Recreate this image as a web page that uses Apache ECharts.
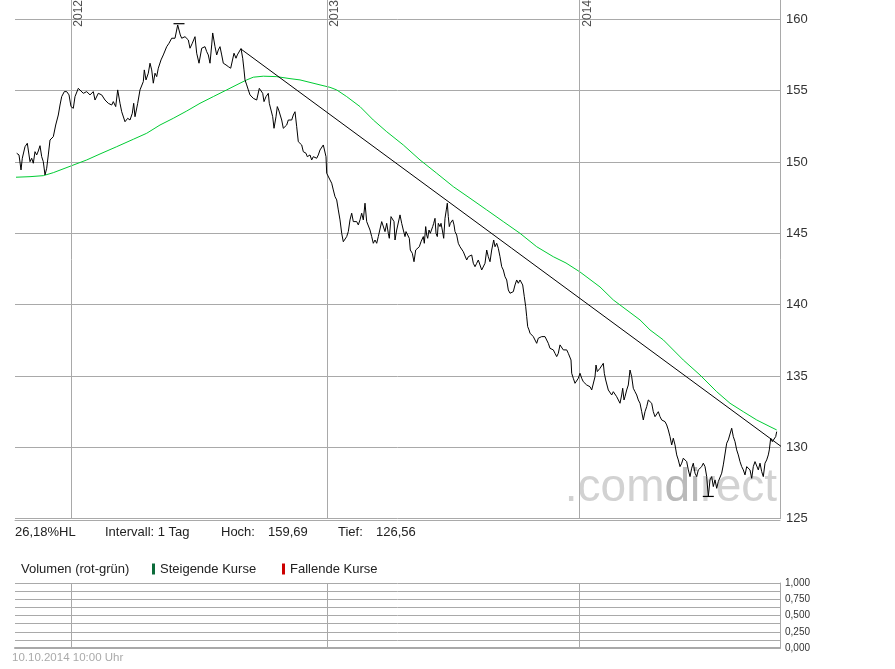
<!DOCTYPE html>
<html><head><meta charset="utf-8">
<script src="https://cdn.jsdelivr.net/npm/echarts@6/dist/echarts.min.js"></script>
<style>html,body{margin:0;padding:0;background:#fff}#c{width:895px;height:669px}</style>
</head><body><div id="c"></div>
<script>
// x values are trading days counted from 13.10.2011
const tradingDay = [1.7,4,6,7.3,10,12.3,14,15,16.7,18.3,20,21.7,23.3,25,26.7,28.3,30,31.7,33.3,35,38.3,40.7,43.3,45,46.7,49.3,51.7,54,56,58.3,60,63.3,65.3,68.3,71.7,75,78.3,80,83.3,86.7,90,93.3,96.7,98.3,100.7,102.7,105,106.7,110,112.7,115,117.3,118.7,120,122.7,125,128.3,129.3,131,133.3,135,136.7,138.3,140,141.7,143.3,146,148.3,151.7,154,156.7,160,162.7,164,165.3,166.7,170,173.3,175,177.3,180,181.7,184,186.7,190,191.7,193.3,195,196.7,197.7,200,201.7,203.3,205,206.7,208.3,211,213.3,215.7,217.3,219,221,222.3,224.3,226,227.7,229,230,231.7,233.3,235,236.7,238.3,240,241.7,244.3,246,247.7,249,251,253.3,254.3,256,257.7,259,261,262.3,263.7,265,266.7,268.3,270,271.7,273.3,275,276.7,278.3,280,281.7,283.3,285,286.7,288.3,291,292.3,295,296.7,298.3,300,301.7,303.3,305,306.7,308.3,310,311,311.7,313.3,315,316.7,318.3,320,321.7,323.3,325,326.7,328.3,330,331.7,333.3,335,336.7,338.3,340,341.7,343.3,345,346.7,348.3,350,351.7,353.3,355,356.7,358.3,360,361.7,363.3,365,366.7,368.3,370,371.7,373.3,374.3,376,377.3,379,380,381.7,383.3,385,386.7,388.3,390,391,392.7,394.3,395.3,397.3,399,400.7,402.3,404.3,406,407.3,408.3,409.3,410.7,411.7,412.7,414,415.3,416.7,417.7,418.7,420,421,422.3,423.3,425,426,427.3,428.7,430,431.3,432.3,433.3,434.3,435.3,436.7,437.7,439,440,441.7,443.3,445,446.7,448.3,450,451.7,453.3,455,456.7,458.3,460,461.7,463.3,465,466.7,468.3,470,471.7,473.3,475,476.7,477.7,478.7,480,481.7,483.3,485,486.7,488.3,490,491.7,493.3,495,496.7,498.3,500,501.7,503.3,505,506.7,507.7,509.3,510.7,511.7,512.7,514,515,516.7,518.3,520,521.7,523.3,525,526.7,528.3,530,531.7,533.3,535,536.7,538.3,540,541.7,543.3,545,546.7,548.3,550,551.7,553.3,555,556,556.7,558.3,560,561.7,563.3,565,566.7,568.3,570,571.7,573.3,575,576.7,578.3,580,581,582.3,583.3,585,586.7,588.3,589.3,590.7,591.7,593.3,595,596.7,598.3,600,601.7,603.3,605,606.7,607.7,609,610,611.7,613.3,615,616.7,618.3,620,621.7,623.3,625,626.7,628.3,630,631.7,633.3,635,636.7,638.3,640,641.7,643.3,645,646.7,648.3,650,651.7,653.3,655,656.7,658.3,660,661.7,663.3,665,666.7,668.3,670,671.7,673.3,675,676.7,678.3,680,681.7,683.3,685,686.7,688.3,690,691.7,693.3,695,696.7,698.3,700,701.7,703.3,705,706.7,708.3,710,711.7,713.3,715,716.7,718.3,720,721.7,723.3,725,726.7,728.3,730,731.7,733.3,735,736.7,738.3,740,741.7,743.3,745,746.7,748.3,750,751.7,753.3,754.3,755.7,757.3,759,760.7,761.7];
const closePrice = [150.61,150.49,149.44,150.26,151.07,151.31,150.49,150.02,150.26,149.91,150.72,150.49,150.77,151.14,150.37,150.02,149.09,149.56,150.49,151.54,151.77,152.59,153.29,153.99,154.58,154.93,154.93,154.70,153.88,153.76,154.58,155.16,155.28,154.81,154.93,154.70,154.93,154.34,154.81,154.70,154.34,154.11,153.99,154.23,153.88,155.05,154.11,153.52,152.82,153.06,152.94,153.41,154.11,153.17,154.11,155.05,155.63,156.45,155.75,156.22,156.92,156.45,155.52,156.22,155.98,156.57,157.15,157.50,158.08,158.32,158.67,158.67,159.60,159.69,158.90,158.67,158.78,158.55,157.97,158.32,158.78,157.62,156.92,157.97,158.08,157.73,157.50,156.92,158.20,159.04,158.08,157.50,157.85,158.08,157.50,156.92,156.80,156.68,156.57,156.68,157.62,157.27,157.50,157.62,157.95,157.27,156.45,155.75,155.40,155.05,154.70,154.81,154.46,154.58,154.34,155.16,155.28,154.81,154.23,154.58,154.81,154.11,153.64,153.17,152.36,153.17,153.88,153.64,153.52,152.94,152.36,152.24,152.59,152.94,153.06,152.94,153.29,153.52,152.47,151.42,151.31,151.19,150.72,150.61,150.37,150.49,150.14,150.37,150.49,150.26,150.49,150.84,150.72,151.19,151.19,150.37,149.21,149.09,148.74,148.51,148.04,147.57,147.34,146.64,145.94,145.00,144.41,144.30,144.77,145.12,145.94,146.41,145.82,145.94,145.82,145.59,145.94,146.41,145.94,147.11,145.82,145.70,145.23,144.77,144.30,144.53,144.30,144.77,144.65,145.82,145.70,145.12,145.70,145.00,144.65,146.17,146.29,145.82,144.53,145.23,145.12,146.29,145.70,145.23,144.77,145.12,144.88,144.65,143.83,143.60,143.01,143.83,143.95,144.06,144.41,144.53,144.77,144.30,145.47,144.88,144.65,145.23,145.00,144.88,145.47,145.70,146.05,145.00,144.77,145.70,145.47,145.70,145.23,144.65,146.05,146.64,147.11,146.17,145.47,145.70,145.59,145.94,145.59,145.12,144.88,144.30,144.06,143.95,143.71,143.60,143.13,143.36,143.48,143.48,142.90,142.66,142.90,143.13,142.78,142.43,142.55,142.90,143.83,143.36,143.01,143.83,144.18,144.53,144.06,144.30,143.95,143.36,142.66,142.43,141.96,141.73,141.03,140.80,140.68,140.91,141.38,141.73,141.50,141.73,141.85,141.38,140.56,139.86,139.16,138.46,138.23,138.00,138.11,137.76,137.65,137.29,137.65,137.53,137.76,137.76,137.76,137.88,137.29,136.94,137.06,136.83,136.59,136.36,136.59,137.18,137.29,136.83,136.71,136.83,136.59,136.71,136.12,135.19,134.84,134.49,134.60,134.84,135.19,134.84,134.60,134.72,134.37,134.49,134.25,134.02,134.14,134.95,135.77,135.31,135.19,135.54,135.66,135.89,135.19,134.72,134.60,134.02,133.90,133.67,133.90,133.79,133.55,133.44,133.09,133.67,134.14,133.32,133.55,134.02,134.37,135.42,134.95,134.14,133.90,133.67,133.32,133.09,132.50,131.92,132.50,132.85,133.32,133.44,133.09,132.50,132.15,132.04,132.50,132.15,131.92,132.04,131.80,131.57,131.22,130.75,130.17,130.64,130.17,129.47,129.12,128.65,128.89,129.24,129.24,129.00,128.42,127.95,128.54,128.89,128.19,127.95,128.42,128.42,128.65,128.89,128.65,127.95,126.56,127.72,127.95,127.25,127.72,127.13,127.60,127.72,128.19,128.77,128.89,130.29,130.52,130.52,131.34,130.75,130.40,129.82,129.47,129.00,128.65,128.42,128.07,128.65,128.77,128.42,127.83,128.65,129.00,128.89,128.42,128.89,128.30,127.95,128.89,129.12,129.47,129.82,130.64,130.40,130.29,130.75,131.10];
const maDay = [1,15,28.3,38.3,56.7,71.7,85,101.7,118.3,131.7,145,158.3,171.7,185,198.3,211.7,225,231.7,238.3,248.3,261.7,275,285,305,315,321.7,331.7,345,358.3,371.7,388.3,405,421.7,438.3,455,471.7,488.3,505,521.7,538.3,551,565,585,598.3,625,635,648.3,668.3,685,701.7,715,728.3,741.7,755,761.7];
const maValue = [148.93,148.97,149.04,149.25,149.74,150.14,150.56,151.07,151.59,152.01,152.59,153.06,153.57,154.11,154.58,155.05,155.52,155.75,155.94,156.01,155.98,155.84,155.75,155.40,155.23,155.05,154.58,153.88,152.94,152.12,151.19,150.14,149.21,148.27,147.46,146.64,145.82,145.00,144.06,143.36,142.92,142.29,141.24,140.33,138.93,138.23,137.53,136.12,135.07,133.90,133.09,132.50,131.92,131.45,131.22];
const trendDay = [226, 767.7];
const trendValue = [157.91, 129.98];
const yearDay = [56, 312, 564.5];
const yearLabel = ['2012', '2013', '2014'];
const priceAxis = {min: 125, max: 161.35, step: 5};
const volumeAxis = {min: 0, max: 1, step: 0.125};
const dayRange = {min: 0, max: 765};
const intervalText = 'Intervall: 1 Tag';
const stampText = '10.10.2014 10:00 Uhr';

const GRID = '#a9a9a9';
const FONT = '"Liberation Sans", Arial, sans-serif';
const de = (v, d) => v.toFixed(d).replace('.', ',');
const hoch = Math.max(...closePrice), tief = Math.min(...closePrice);

const chart = echarts.init(document.getElementById('c'), null, {renderer: 'canvas'});
const xBase = {type: 'value', min: dayRange.min, max: dayRange.max,
  axisTick: {show: false}, axisLabel: {show: false}, splitLine: {show: false}};
const yearLines = (xi, yi, y0) => ({
  type: 'line', xAxisIndex: xi, yAxisIndex: yi, z: 1, silent: true,
  data: yearDay.map(d => [d, y0]), symbol: 'none', lineStyle: {opacity: 0},
  markLine: {silent: true, symbol: 'none', animation: false, label: {show: false},
    lineStyle: {color: GRID, width: 1, type: 'solid'},
    data: yearDay.map(d => ({xAxis: d}))}
});
chart.setOption({
  animation: false,
  backgroundColor: '#fff',
  grid: [
    {left: 15, right: 115, top: 0, height: 518.7},
    {left: 15, right: 115, top: 583, height: 65}
  ],
  xAxis: [
    Object.assign({gridIndex: 0, axisLine: {show: true, onZero: false, lineStyle: {color: GRID}}, offset: 1.5}, xBase),
    Object.assign({gridIndex: 1, axisLine: {show: true, onZero: false, lineStyle: {color: GRID, width: 2}}}, xBase)
  ],
  yAxis: [
    {gridIndex: 0, type: 'value', position: 'right', min: priceAxis.min, max: priceAxis.max, interval: priceAxis.step,
      axisLine: {show: true, onZero: false, lineStyle: {color: GRID}}, axisTick: {show: false},
      axisLabel: {margin: 6, color: '#333', fontFamily: FONT, fontSize: 13, showMaxLabel: false,
        formatter: v => (Math.abs(v % priceAxis.step) < 1e-6 ? String(v) : '')},
      splitLine: {show: true, showMaxLine: false, lineStyle: {color: GRID}}},
    {gridIndex: 1, type: 'value', position: 'right', min: volumeAxis.min, max: volumeAxis.max, interval: volumeAxis.step,
      axisLine: {show: true, onZero: false, lineStyle: {color: GRID}}, axisTick: {show: false},
      axisLabel: {margin: 5, color: '#333', fontFamily: FONT, fontSize: 10,
        formatter: v => (Math.abs(v * 4 - Math.round(v * 4)) < 1e-6 ? de(v, 3) : '')},
      splitLine: {show: true, lineStyle: {color: GRID}}}
  ],
  graphic: [
    {type: 'text', z: 0, x: 777, y: 488, style: {text: '{a|.com}{b|di}{a|rect}', align: 'right', verticalAlign: 'middle',
      rich: {a: {fontSize: 46, fontFamily: FONT, fill: '#d2d2d2'}, b: {fontSize: 46, fontFamily: FONT, fill: '#bababa'}}}},
    {type: 'text', x: 15, y: 532.5, style: {text: de((hoch / tief - 1) * 100, 2) + '%HL', font: '13px ' + FONT, fill: '#222', verticalAlign: 'middle'}},
    {type: 'text', x: 105, y: 532.5, style: {text: intervalText, font: '13px ' + FONT, fill: '#222', verticalAlign: 'middle'}},
    {type: 'text', x: 221, y: 532.5, style: {text: 'Hoch:', font: '13px ' + FONT, fill: '#222', verticalAlign: 'middle'}},
    {type: 'text', x: 268, y: 532.5, style: {text: de(hoch, 2), font: '13px ' + FONT, fill: '#222', verticalAlign: 'middle'}},
    {type: 'text', x: 338, y: 532.5, style: {text: 'Tief:', font: '13px ' + FONT, fill: '#222', verticalAlign: 'middle'}},
    {type: 'text', x: 376, y: 532.5, style: {text: de(tief, 2), font: '13px ' + FONT, fill: '#222', verticalAlign: 'middle'}},
    {type: 'text', x: 21, y: 569, style: {text: 'Volumen (rot-grün)', font: '13px ' + FONT, fill: '#222', verticalAlign: 'middle'}},
    {type: 'rect', shape: {x: 152, y: 563.5, width: 3, height: 11}, style: {fill: '#0b6b3a'}},
    {type: 'text', x: 160, y: 569, style: {text: 'Steigende Kurse', font: '13px ' + FONT, fill: '#222', verticalAlign: 'middle'}},
    {type: 'rect', shape: {x: 282, y: 563.5, width: 3, height: 11}, style: {fill: '#cc0000'}},
    {type: 'text', x: 290, y: 569, style: {text: 'Fallende Kurse', font: '13px ' + FONT, fill: '#222', verticalAlign: 'middle'}},
    {type: 'text', x: 12, y: 658, style: {text: stampText, font: '11.5px ' + FONT, fill: '#aaaaaa', verticalAlign: 'middle'}}
  ],
  series: [
    yearLines(0, 0, priceAxis.min),
    yearLines(1, 1, volumeAxis.min),
    {type: 'scatter', xAxisIndex: 0, yAxisIndex: 0, symbolSize: 0, silent: true, z: 3,
      data: yearDay.map(d => [d, priceAxis.max]),
      label: {show: true, position: 'inside', rotate: 90, align: 'right', verticalAlign: 'top', offset: [0, 2],
        color: '#222', fontFamily: FONT, fontSize: 12, formatter: p => yearLabel[p.dataIndex]}},
    {type: 'line', name: 'GD', xAxisIndex: 0, yAxisIndex: 0, z: 4, symbol: 'none', silent: true,
      data: maDay.map((d, i) => [d, maValue[i]]), lineStyle: {color: '#00cc33', width: 1}},
    {type: 'line', name: 'Trend', xAxisIndex: 0, yAxisIndex: 0, z: 5, symbol: 'none', silent: true, clip: false,
      data: trendDay.map((d, i) => [d, trendValue[i]]), lineStyle: {color: '#000', width: 1}},
    {type: 'line', name: 'Kurs', xAxisIndex: 0, yAxisIndex: 0, z: 6, symbol: 'none', silent: true,
      data: tradingDay.map((d, i) => [d, closePrice[i]]), lineStyle: {color: '#000', width: 1},
      markPoint: {silent: true, symbol: 'rect', symbolSize: [11, 1.2], itemStyle: {color: '#000'}, label: {show: false},
        data: [{type: 'max'}, {type: 'min'}]}}
  ]
});
</script></body></html>
